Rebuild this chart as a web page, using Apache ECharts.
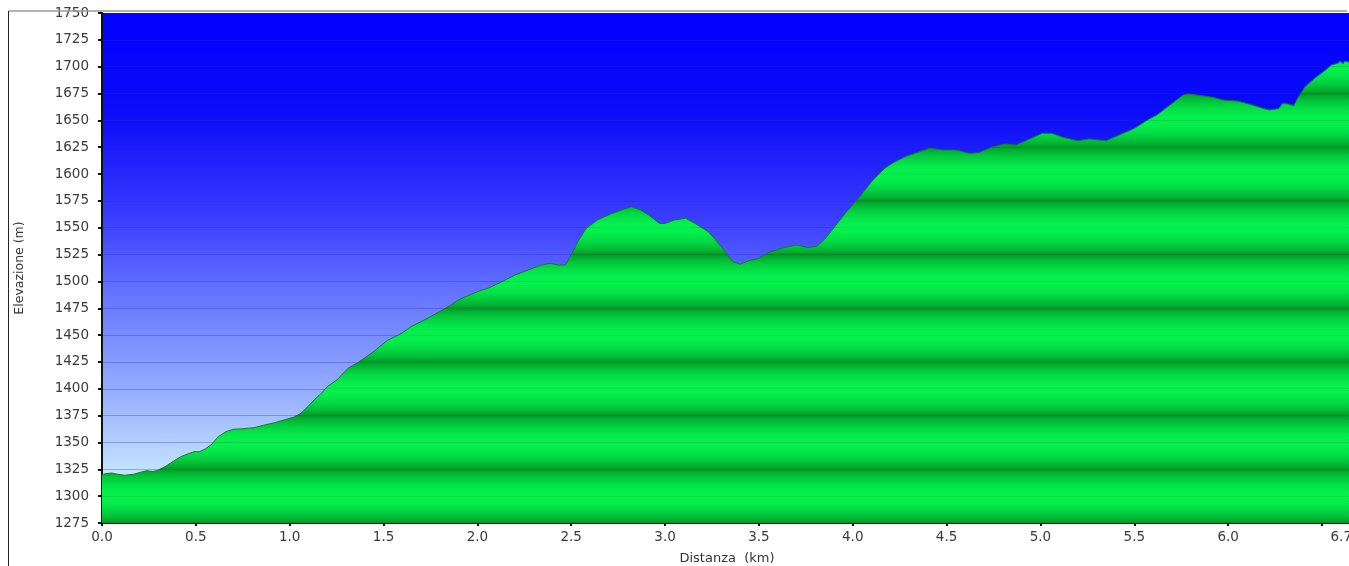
<!DOCTYPE html>
<html><head><meta charset="utf-8">
<script src="https://cdn.jsdelivr.net/npm/echarts@6/dist/echarts.min.js"></script>
<style>html,body{margin:0;padding:0;background:#fff;overflow:hidden}#c{width:1349px;height:566px}</style>
</head><body><div id="c"></div>
<script>
// ---- data ----
const distanceKm = [0.00,0.02,0.05,0.08,0.12,0.17,0.21,0.24,0.27,0.29,0.32,0.35,0.38,0.42,0.46,0.49,0.52,0.55,0.58,0.62,0.66,0.70,0.75,0.81,0.86,0.92,0.97,1.02,1.06,1.10,1.13,1.17,1.20,1.25,1.31,1.36,1.41,1.45,1.49,1.52,1.56,1.60,1.645,1.70,1.75,1.80,1.86,1.89,1.94,2.00,2.06,2.13,2.20,2.27,2.32,2.36,2.39,2.43,2.47,2.50,2.54,2.58,2.64,2.71,2.78,2.82,2.87,2.92,2.97,3.00,3.05,3.11,3.16,3.23,3.27,3.32,3.36,3.40,3.44,3.50,3.55,3.62,3.70,3.76,3.81,3.85,3.89,3.96,4.03,4.10,4.17,4.22,4.28,4.37,4.41,4.48,4.55,4.62,4.67,4.74,4.81,4.87,4.94,5.01,5.06,5.12,5.20,5.26,5.35,5.42,5.49,5.51,5.57,5.62,5.69,5.76,5.79,5.87,5.92,5.97,6.05,6.11,6.19,6.22,6.27,6.29,6.32,6.35,6.37,6.41,6.46,6.52,6.55,6.58,6.60,6.61,6.62,6.64,6.65,6.66];
const elevationM = [1320,1321,1321.5,1320.5,1319.5,1320.5,1322.5,1323.7,1323,1323.7,1326,1329,1332.5,1336.8,1339.5,1341.4,1341.4,1344,1347.6,1355.4,1360,1362.3,1362.8,1363.8,1366,1368.4,1371,1373.4,1377.2,1384,1389.6,1396,1402,1408,1419,1424,1430,1435,1440.8,1445,1448.5,1452,1457.8,1462.5,1467.2,1472,1478,1482,1486,1490.4,1494,1499.7,1506,1510.6,1514,1516,1516.9,1515.3,1515.3,1524.6,1538.6,1549.5,1557.2,1562.8,1567.2,1569.6,1566.5,1561,1554,1554,1557.2,1558.8,1554,1546.3,1538.6,1527.7,1518.4,1516,1519,1521.5,1526.8,1530.8,1534,1531.4,1533,1539.2,1547.9,1563.5,1577.4,1592.9,1605.4,1611,1616.2,1621.8,1624,1622.4,1622.4,1619.3,1619.9,1625,1628,1627,1632.4,1638,1638,1634.2,1631,1632.7,1631,1636.4,1641.7,1643.6,1650.4,1655,1664.3,1673.6,1674.6,1672.7,1671.5,1669,1668,1665.3,1661,1659.7,1661,1666,1665.3,1663.7,1670.6,1681.4,1689,1697,1701.6,1703,1705,1702.5,1705,1704.7,1702,1703];
const yMin = 1275, yMax = 1750, yStep = 25;
const xMin = 0, xMax = 6.66, xStep = 0.5;
const yAxisTitle = 'Elevazione (m)';
const xAxisTitle = 'Distanza  (km)';

const chart = echarts.init(document.getElementById('c'), null, {renderer: 'canvas'});
const points = distanceKm.map((d, i) => [d, elevationM[i]]);
const labelFont = {fontFamily: 'DejaVu Sans', fontSize: 13.5, color: '#3a3a3a'};

const skyGradient = new echarts.graphic.LinearGradient(0, 0, 0, 1, [
  {offset: 0, color: '#0000ff'},
  {offset: 0.2, color: '#0c0cf8'},
  {offset: 0.4, color: '#3a3cff'},
  {offset: 0.55, color: '#6574ff'},
  {offset: 0.75, color: '#98b0ff'},
  {offset: 0.9, color: '#c4e4ff'},
  {offset: 1, color: '#d8f6ff'}
]);

function baseOption(areaColor) {
  return {
    animation: false,
    grid: {left: 102, right: -3, top: 13, bottom: 43, show: true, backgroundColor: skyGradient, borderWidth: 0,
      containLabel: false, outerBoundsMode: 'none'},
    graphic: [
      {type: 'line', shape: {x1: 8.5, y1: 11, x2: 1347, y2: 11}, style: {stroke: '#9a9a9a', lineWidth: 1.5}, z: 10},
      {type: 'line', shape: {x1: 8.5, y1: 11, x2: 8.5, y2: 566}, style: {stroke: '#222', lineWidth: 1}, z: 10}
    ],
    xAxis: {
      type: 'value', min: xMin, max: xMax, interval: xStep,
      name: xAxisTitle, nameLocation: 'middle', nameGap: 29,
      nameTextStyle: {fontFamily: 'DejaVu Sans', fontSize: 13, color: '#333'},
      axisLine: {show: true, onZero: false, lineStyle: {color: '#111', width: 2}},
      axisTick: {show: true, length: 3, lineStyle: {color: '#111', width: 2}},
      splitLine: {show: false},
      axisLabel: Object.assign({margin: 7, showMaxLabel: true, alignMaxLabel: 'right',
        formatter: v => (Math.abs(v - 6.5) < 1e-6 ? '' : v.toFixed(1))}, labelFont)
    },
    yAxis: {
      type: 'value', min: yMin, max: yMax, interval: yStep,
      name: yAxisTitle, nameLocation: 'middle', nameGap: 76,
      nameTextStyle: {fontFamily: 'DejaVu Sans', fontSize: 12.5, color: '#333'},
      axisLine: {show: true, lineStyle: {color: '#111', width: 2}},
      axisTick: {show: true, length: 4, lineStyle: {color: '#111', width: 2}},
      splitLine: {show: true, lineStyle: {color: 'rgba(40,40,220,0.33)', width: 1}},
      axisLabel: Object.assign({margin: 13, formatter: v => String(v)}, labelFont)
    },
    series: [{
      type: 'line', data: points, showSymbol: false, smooth: false,
      lineStyle: {color: '#137a28', width: 1},
      areaStyle: {color: areaColor, opacity: 1, origin: 'start'},
      z: 2
    }]
  };
}

chart.setOption(baseOption('#00e846'));

// striped green gradient aligned to the gridlines (global pixel coords)
const pTop = chart.convertToPixel({yAxisIndex: 0}, yMax);
const pBot = chart.convertToPixel({yAxisIndex: 0}, yMin);
const H = pBot - pTop;
const B = [4, 242, 78], D = [0, 158, 42];
function hex(c){return 'rgb(' + c.join(',') + ')';}
function mix(a,b,t){return a.map((v,i)=>Math.round(v+(b[i]-v)*t));}
function colAt(t){ return mix(B, D, Math.pow(t, 1.8)); } // t: 0 bright line, 1 dark line
const stops = [];
const N = Math.round((yMax - yMin) / yStep);
for (let k = N; k >= 0; k--) {
  const v = yMin + k * yStep;
  const py = chart.convertToPixel({yAxisIndex: 0}, v);
  const off = (py - pTop) / H;
  const dark = (k % 2) === 0;
  const c = dark ? D : B;
  const lineC = dark ? [0, 128, 34] : [0, 205, 62];
  const e = 0.7 / H;
  if (off - e >= 0) stops.push({offset: off - e, color: hex(c)});
  stops.push({offset: Math.max(0, Math.min(1, off)), color: hex(lineC)});
  if (off + e <= 1) stops.push({offset: off + e, color: hex(c)});
  if (k > 0) {
    const nextPy = chart.convertToPixel({yAxisIndex: 0}, v - yStep);
    const span = (nextPy - py) / H;
    for (let s = 1; s < 10; s++) {
      const f = s / 10;
      const t = dark ? (1 - f) : f;
      stops.push({offset: off + span * f, color: hex(colAt(t))});
    }
  }
}
stops.sort((a, b) => a.offset - b.offset);
const greenGrad = new echarts.graphic.LinearGradient(0, pTop, 0, pBot, stops, true);
chart.setOption({series: [{areaStyle: {color: greenGrad, opacity: 1, origin: 'start'}}]});
</script></body></html>
